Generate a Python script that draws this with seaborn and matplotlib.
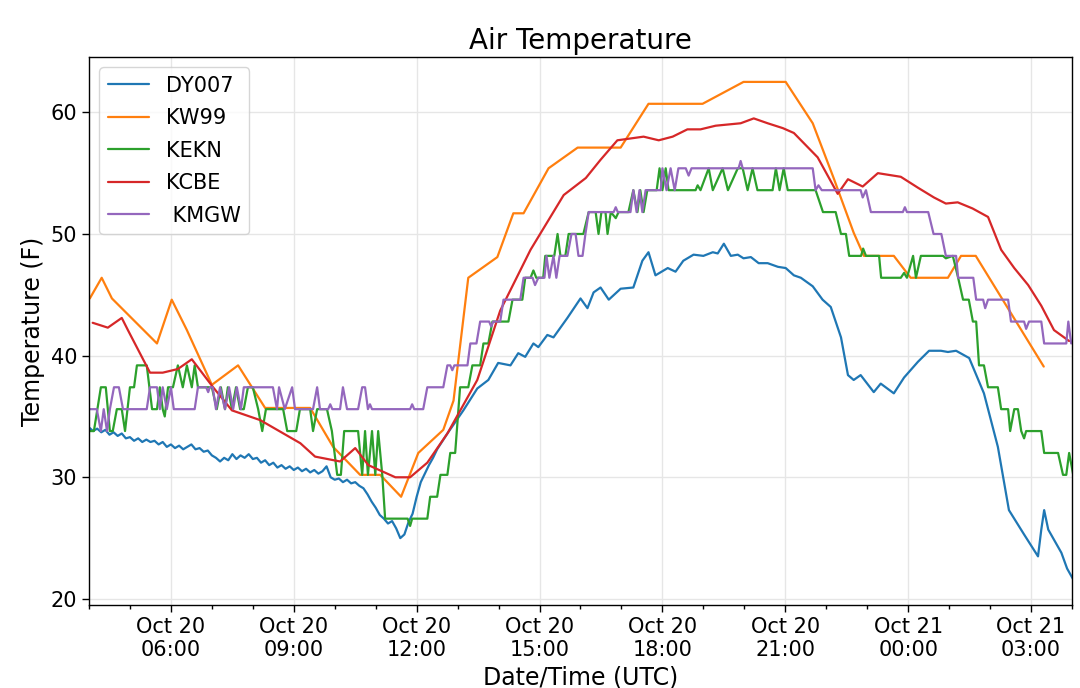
import numpy as np
import pandas as pd
import matplotlib
matplotlib.use("Agg")
import matplotlib.pyplot as plt
import matplotlib.dates as mdates
import seaborn as sns

# ---- data: hours after 2018-10-20 04:00 UTC, temperature (F) ----
start = pd.Timestamp("2018-10-20 04:00")

dy007_h = [0.0, 0.1, 0.2, 0.3, 0.4, 0.5, 0.6, 0.7, 0.8, 0.9,
           1.0, 1.1, 1.2, 1.3, 1.4, 1.5, 1.6, 1.7, 1.8, 1.9,
           2.0, 2.1, 2.2, 2.3, 2.4, 2.5, 2.6, 2.7, 2.8, 2.9,
           3.0, 3.1, 3.2, 3.3, 3.4, 3.5, 3.6, 3.7, 3.8, 3.9,
           4.0, 4.1, 4.2, 4.3, 4.4, 4.5, 4.6, 4.7, 4.8, 4.9,
           5.0, 5.1, 5.2, 5.3, 5.4, 5.5, 5.6, 5.7, 5.8, 5.9,
           6.0, 6.1, 6.2, 6.3, 6.4, 6.5, 6.6, 6.7, 6.8, 6.9,
           7.0, 7.1, 7.2, 7.3, 7.4, 7.5, 7.6, 7.7, 7.8, 7.9,
           8.0, 8.1, 8.2, 8.3, 8.4, 8.5,
           8.75, 9.14, 9.48, 9.75, 9.99, 10.29, 10.48, 10.65, 10.85, 10.97,
           11.19, 11.34, 11.68, 12.00, 12.17, 12.32, 12.49, 12.69, 12.98, 13.29,
           13.51, 13.66, 13.83, 14.13, 14.32, 14.51, 14.76, 15.00, 15.23, 15.35,
           15.50, 15.67, 15.84, 15.98, 16.16, 16.35, 16.57, 16.82, 17.01, 17.21,
           17.38, 17.67, 17.91, 18.11, 18.36, 18.53, 18.67, 18.84, 19.16, 19.33,
           19.65, 19.90, 20.24, 20.51, 20.80, 20.97, 21.17, 21.49, 21.85, 22.19,
           22.46, 22.83, 23.17, 23.25, 23.32, 23.42, 23.74, 23.88, 24.03]
dy007_t = [34.1, 33.8, 34.0, 33.7, 33.9, 33.5, 33.7, 33.4, 33.6, 33.2,
           33.3, 33.0, 33.2, 32.9, 33.1, 32.9, 33.0, 32.7, 32.9, 32.5,
           32.7, 32.4, 32.6, 32.3, 32.5, 32.7, 32.3, 32.4, 32.1, 32.2,
           31.8, 31.6, 31.3, 31.6, 31.4, 31.9, 31.5, 31.8, 31.6, 31.9,
           31.5, 31.6, 31.2, 31.4, 31.0, 31.2, 30.8, 31.0, 30.7, 30.9,
           30.6, 30.8, 30.5, 30.7, 30.4, 30.6, 30.3, 30.5, 30.9, 30.0,
           29.8, 29.9, 29.6, 29.8, 29.5, 29.6, 29.3, 29.1, 28.6, 28.0,
           27.5, 26.9, 26.6, 26.2, 26.4, 25.8, 25.0, 25.3, 26.3, 27.0,
           28.4, 29.6, 30.3, 31.0, 31.6, 32.3,
           33.6, 35.5, 37.3, 38.0, 39.4, 39.2, 40.2, 39.9, 41.0, 40.7,
           41.7, 41.5, 43.1, 44.7, 43.9, 45.2, 45.6, 44.6, 45.5, 45.6,
           47.8, 48.5, 46.6, 47.2, 46.9, 47.8, 48.3, 48.2, 48.5, 48.4,
           49.2, 48.2, 48.3, 48.0, 48.1, 47.6, 47.6, 47.3, 47.2, 46.6,
           46.4, 45.7, 44.6, 44.0, 41.5, 38.4, 38.0, 38.4, 37.0, 37.7,
           36.9, 38.2, 39.5, 40.4, 40.4, 40.3, 40.4, 39.8, 36.9, 32.5,
           27.3, 25.3, 23.5, 25.7, 27.3, 25.7, 23.8, 22.5, 21.6]

kw99_h = [0.02, 0.31, 0.56, 1.66, 2.02, 2.39, 3.00, 3.64, 4.30, 5.40,
          5.96, 6.62, 7.11, 7.62, 8.04, 8.65, 8.90, 9.26, 9.97, 10.36,
          10.61, 11.22, 11.93, 12.98, 13.66, 14.98, 15.98, 17.01, 17.67, 18.18,
          18.67, 18.92, 19.65, 20.06, 20.97, 21.29, 21.65, 23.31]
kw99_t = [44.7, 46.4, 44.7, 41.0, 44.6, 42.1, 37.6, 39.2, 35.7, 35.7,
          32.5, 30.2, 30.2, 28.4, 32.0, 33.9, 36.3, 46.4, 48.1, 51.7,
          51.7, 55.4, 57.1, 57.1, 60.7, 60.7, 62.5, 62.5, 59.1, 54.6,
          50.1, 48.2, 48.2, 46.4, 46.4, 48.2, 48.2, 39.1]

kekn_h = [0.02, 0.12, 0.29, 0.41, 0.51, 0.58, 0.68, 0.80, 0.88, 1.00,
          1.10, 1.17, 1.41, 1.54, 1.66, 1.73, 1.80, 1.85, 1.93, 2.05,
          2.17, 2.29, 2.39, 2.51, 2.58, 2.66, 3.00, 3.12, 3.22, 3.32,
          3.39, 3.49, 3.59, 3.69, 3.78, 3.88, 4.00, 4.13, 4.23, 4.32,
          4.74, 4.84, 5.06, 5.15, 5.40, 5.47, 5.57, 5.81, 5.93, 6.06,
          6.15, 6.23, 6.57, 6.67, 6.74, 6.81, 6.91, 6.99, 7.06, 7.16,
          7.23, 7.78, 7.84, 7.89, 8.26, 8.33, 8.50, 8.58, 8.75, 8.82,
          8.94, 9.06, 9.26, 9.36, 9.55, 9.63, 9.75, 9.85, 10.24, 10.34,
          10.58, 10.65, 10.78, 10.85, 10.92, 11.09, 11.14, 11.36, 11.44, 11.51,
          11.63, 11.71, 12.07, 12.20, 12.37, 12.44, 12.51, 12.61, 12.66, 12.74,
          12.86, 12.93, 13.17, 13.29, 13.39, 13.46, 13.54, 13.63, 13.86, 13.93,
          14.00, 14.08, 14.15, 14.81, 14.86, 14.93, 15.13, 15.23, 15.47, 15.60,
          15.84, 15.96, 16.08, 16.20, 16.32, 16.69, 16.77, 16.86, 16.96, 17.06,
          17.74, 17.92, 18.23, 18.36, 18.48, 18.56, 18.85, 18.90, 18.97, 19.29,
          19.34, 19.82, 19.90, 19.97, 20.12, 20.19, 20.31, 20.85, 20.92, 21.09,
          21.22, 21.34, 21.48, 21.58, 21.66, 21.73, 21.85, 21.95, 22.19, 22.27,
          22.44, 22.49, 22.59, 22.68, 22.76, 22.83, 22.88, 23.25, 23.32, 23.66,
          23.78, 23.86, 23.93, 24.03]
kekn_t = [33.8, 33.8, 37.4, 37.4, 33.8, 33.8, 35.6, 35.6, 33.8, 37.4,
          37.4, 39.2, 39.2, 35.6, 35.6, 37.4, 35.6, 35.0, 37.4, 37.4,
          39.2, 37.4, 39.2, 37.4, 39.2, 37.4, 37.4, 35.6, 37.4, 35.6,
          37.4, 35.6, 37.4, 35.6, 35.6, 37.4, 37.4, 35.6, 33.8, 35.6,
          35.6, 33.8, 33.8, 35.6, 35.6, 33.8, 35.6, 35.6, 33.8, 30.2,
          30.2, 33.8, 33.8, 30.2, 33.8, 30.2, 33.8, 30.2, 33.8, 30.2,
          26.6, 26.6, 26.0, 26.6, 26.6, 28.4, 28.4, 30.2, 30.2, 32.0,
          32.0, 37.4, 37.4, 39.2, 39.2, 41.0, 41.0, 42.8, 42.8, 44.6,
          44.6, 46.4, 46.4, 47.0, 46.4, 46.4, 48.2, 48.2, 50.0, 48.2,
          48.2, 50.0, 50.0, 51.8, 51.8, 50.0, 51.8, 51.8, 50.0, 51.8,
          51.3, 51.8, 51.8, 53.6, 51.8, 53.6, 51.8, 53.6, 53.6, 55.4,
          53.6, 55.4, 53.6, 53.6, 54.0, 53.6, 55.4, 53.6, 55.4, 53.6,
          55.4, 55.4, 53.6, 55.4, 53.6, 53.6, 55.4, 53.6, 55.4, 53.6,
          53.6, 51.8, 51.8, 50.0, 50.0, 48.2, 48.2, 48.8, 48.2, 48.2,
          46.4, 46.4, 46.8, 46.4, 48.2, 46.4, 48.2, 48.2, 48.0, 48.2,
          46.4, 44.6, 44.6, 42.8, 42.8, 39.2, 39.2, 37.4, 37.4, 35.6,
          35.6, 33.8, 35.6, 35.6, 33.8, 33.2, 33.8, 33.8, 32.0, 32.0,
          30.2, 30.2, 32.0, 30.2]

kcbe_h = [0.09, 0.46, 0.80, 0.95, 1.49, 1.80, 2.17, 2.51, 3.03, 3.49,
          4.18, 5.16, 5.52, 6.13, 6.50, 6.82, 7.48, 7.84, 8.26, 8.75,
          9.48, 10.04, 10.78, 11.59, 12.13, 12.49, 12.90, 13.54, 13.91, 14.25,
          14.61, 14.93, 15.30, 15.91, 16.23, 16.57, 16.94, 17.21, 17.79, 18.28,
          18.53, 18.89, 19.26, 19.82, 20.24, 20.63, 20.92, 21.21, 21.57, 21.95,
          22.27, 22.59, 22.93, 23.25, 23.56, 23.93]
kcbe_t = [42.7, 42.3, 43.1, 42.1, 38.6, 38.6, 38.9, 39.7, 37.4, 35.5,
          34.7, 32.8, 31.7, 31.3, 32.4, 31.0, 30.0, 30.0, 31.2, 33.6,
          38.0, 43.7, 48.7, 53.2, 54.6, 56.1, 57.7, 58.0, 57.7, 58.0,
          58.6, 58.6, 58.9, 59.1, 59.5, 59.1, 58.7, 58.3, 56.3, 53.3,
          54.5, 53.9, 55.0, 54.7, 53.8, 53.0, 52.5, 52.6, 52.1, 51.4,
          48.7, 47.2, 45.8, 44.1, 42.1, 41.2]

kmgw_h = [0.02, 0.19, 0.29, 0.36, 0.44, 0.51, 0.61, 0.73, 0.83, 1.41,
          1.49, 1.66, 1.73, 1.80, 1.90, 2.00, 2.07, 2.58, 2.66, 2.86,
          2.91, 2.95, 3.02, 3.10, 3.20, 3.32, 3.42, 3.52, 3.61, 3.71,
          3.78, 4.49, 4.59, 4.64, 4.78, 4.96, 5.03, 5.47, 5.57, 5.64,
          5.84, 5.89, 5.94, 6.13, 6.20, 6.30, 6.57, 6.67, 6.74, 6.81,
          6.86, 6.91, 7.84, 7.89, 7.94, 8.16, 8.26, 8.65, 8.75, 8.82,
          8.87, 8.92, 9.24, 9.31, 9.46, 9.55, 9.77, 9.82, 9.87, 10.04,
          10.12, 10.53, 10.61, 10.83, 10.89, 10.97, 11.12, 11.17, 11.24, 11.34,
          11.41, 11.49, 11.68, 11.78, 11.88, 11.95, 12.05, 12.12, 12.20, 12.81,
          12.86, 12.91, 13.22, 13.29, 13.37, 13.44, 13.51, 13.59, 13.96, 14.00,
          14.10, 14.20, 14.30, 14.39, 14.57, 14.64, 14.71, 15.86, 15.91, 15.96,
          17.67, 17.74, 17.81, 17.89, 18.84, 18.89, 18.97, 19.09, 19.87, 19.92,
          19.97, 20.49, 20.62, 20.81, 20.92, 21.17, 21.22, 21.59, 21.66, 21.83,
          21.88, 21.95, 22.44, 22.51, 22.83, 22.88, 22.95, 23.25, 23.32, 23.86,
          23.91, 23.98]
kmgw_t = [35.6, 35.6, 33.8, 35.6, 33.8, 35.6, 37.4, 37.4, 35.6, 35.6,
          37.4, 37.4, 35.6, 37.4, 35.6, 37.4, 35.6, 35.6, 37.4, 37.4,
          37.0, 37.4, 37.4, 35.6, 37.4, 35.6, 37.4, 35.6, 37.4, 35.6,
          37.4, 37.4, 35.6, 37.4, 35.6, 37.4, 35.6, 35.6, 37.4, 35.6,
          35.6, 36.0, 35.6, 35.6, 37.4, 35.6, 35.6, 37.4, 37.4, 35.6,
          36.0, 35.6, 35.6, 36.0, 35.6, 35.6, 37.4, 37.4, 39.2, 39.2,
          38.8, 39.2, 39.2, 41.0, 41.0, 42.8, 42.8, 42.4, 42.8, 42.8,
          44.6, 44.6, 46.4, 46.4, 45.8, 46.4, 46.4, 48.2, 46.4, 48.2,
          46.4, 48.2, 48.2, 50.0, 50.0, 48.2, 48.2, 50.0, 51.8, 51.8,
          52.2, 51.8, 51.8, 53.6, 51.8, 53.6, 51.8, 53.6, 53.6, 55.4,
          53.6, 55.4, 53.6, 55.4, 55.4, 54.8, 55.4, 55.4, 56.0, 55.4,
          55.4, 53.6, 54.0, 53.6, 53.6, 53.0, 53.6, 51.8, 51.8, 52.2,
          51.8, 51.8, 50.0, 50.0, 48.2, 48.2, 46.4, 46.4, 44.6, 44.6,
          43.9, 44.6, 44.6, 42.8, 42.8, 42.2, 42.8, 42.8, 41.0, 41.0,
          42.8, 41.0]

series = [("DY007", dy007_h, dy007_t),
          ("KW99", kw99_h, kw99_t),
          ("KEKN", kekn_h, kekn_t),
          ("KCBE", kcbe_h, kcbe_t),
          (" KMGW", kmgw_h, kmgw_t)]
colors = sns.color_palette("tab10", 5)

sns.set_style("ticks")
plt.rcParams["font.family"] = ["DejaVu Sans"]
plt.rcParams.update({"text.color": "black", "axes.labelcolor": "black",
                     "xtick.color": "black", "ytick.color": "black",
                     "axes.edgecolor": "black"})

fig = plt.figure(figsize=(10.8, 6.88), dpi=100)
ax = fig.add_axes([0.0824, 0.1206, 0.9102, 0.7966])

for (name, hrs, temps), c in zip(series, colors):
    df = pd.DataFrame({"time": start + pd.to_timedelta(hrs, unit="h"),
                       "temp": temps})
    sns.lineplot(data=df, x="time", y="temp", ax=ax, color=c, label=name,
                 linewidth=1.6, sort=False, estimator=None)

ax.set_xlim(start, start + pd.Timedelta(hours=24))
ax.set_ylim(19.5, 64.55)
ax.xaxis.set_major_locator(mdates.HourLocator(byhour=[0, 3, 6, 9, 12, 15, 18, 21]))
ax.xaxis.set_minor_locator(mdates.HourLocator(interval=1))
ax.xaxis.set_major_formatter(mdates.DateFormatter("%b %d\n%H:%M"))
ax.set_yticks([20, 30, 40, 50, 60])

ax.grid(True, which="major", color="#e6e6e6", linewidth=1.0)
for s in ax.spines.values():
    s.set_visible(True)
    s.set_color("black")
    s.set_linewidth(1.0)
ax.tick_params(axis="both", which="major", labelsize=15, length=5, width=1,
               direction="out", color="black", labelcolor="black")
ax.tick_params(axis="x", which="minor", length=3, width=1, color="black")
for lab in ax.get_xticklabels():
    lab.set_horizontalalignment("center")

ax.set_title("Air Temperature", fontsize=20, color="black")
ax.set_xlabel("Date/Time (UTC)", fontsize=17, color="black")
ax.set_ylabel("Temperature (F)", fontsize=17, color="black")
leg = ax.legend(loc="upper left", fontsize=15, frameon=True, fancybox=True,
                edgecolor="#cccccc", framealpha=0.8, labelspacing=0.6)
for t in leg.get_texts():
    t.set_color("black")

fig.savefig("out.png", dpi=100)
